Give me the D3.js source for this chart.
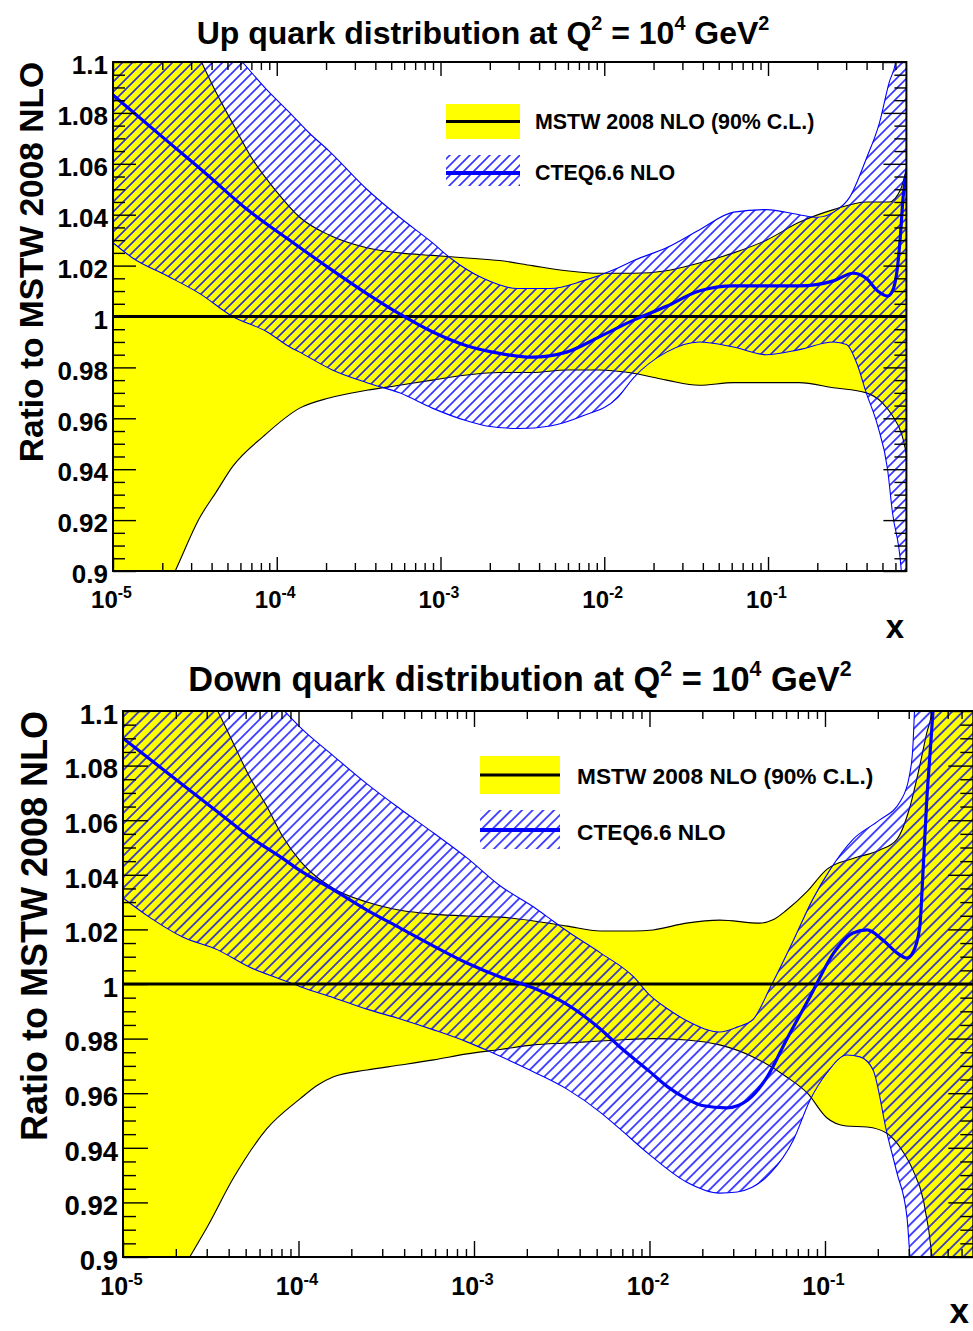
<!DOCTYPE html>
<html>
<head>
<meta charset="utf-8">
<script src="https://cdn.jsdelivr.net/npm/d3@7"></script>
<style>
  body { margin: 0; background: #fff; }
  svg text { font-family: "Liberation Sans", Arial, Helvetica, sans-serif; font-weight: bold; fill: #000; }
</style>
</head>
<body>
<svg id="fig" width="973" height="1331"></svg>
<script>
// ---- axis ranges and tick labels ----
const xDomain = [1e-5, 0.7];
const yDomain = [0.9, 1.1];
const yTicks = [0.90, 0.92, 0.94, 0.96, 0.98, 1.00, 1.02, 1.04, 1.06, 1.08, 1.10];
const xTicks = [1e-5, 1e-4, 1e-3, 1e-2, 1e-1];
const xTickExponents = ["-5", "-4", "-3", "-2", "-1"];
const legendLabels = ["MSTW 2008 NLO (90% C.L.)", "CTEQ6.6 NLO"];

// ---- curves: [log10(x), ratio to MSTW 2008 NLO] ----
// MSTW 2008 central value (ratio 1 by construction)
const mstwCentral = [[-5.0, 1.0], [-0.155, 1.0]];

// Up quark, MSTW 2008 NLO 90% C.L. band
const upMstwHi = [[-5.00,1.170],[-4.70,1.130],[-4.46,1.100],[-4.37,1.088],[-4.27,1.076],[-4.15,1.062],
  [-4.00,1.049],[-3.86,1.039],[-3.68,1.032],[-3.45,1.027],[-3.25,1.025],[-3.05,1.024],[-2.84,1.023],
  [-2.64,1.022],[-2.44,1.020],[-2.23,1.018],[-2.03,1.017],[-1.82,1.017],[-1.62,1.018],[-1.42,1.021],
  [-1.21,1.025],[-1.01,1.030],[-0.81,1.037],[-0.60,1.042],[-0.40,1.045],[-0.26,1.045],[-0.19,1.050],[-0.155,1.058]];
const upMstwLo = [[-5.00,0.850],[-4.80,0.876],[-4.62,0.900],[-4.47,0.921],[-4.37,0.931],[-4.27,0.941],
  [-4.08,0.953],[-3.86,0.964],[-3.68,0.968],[-3.45,0.971],[-3.25,0.973],[-3.05,0.975],[-2.84,0.977],
  [-2.64,0.978],[-2.44,0.978],[-2.23,0.979],[-2.03,0.979],[-1.85,0.978],[-1.62,0.975],[-1.42,0.973],
  [-1.21,0.974],[-1.01,0.974],[-0.81,0.974],[-0.60,0.972],[-0.40,0.970],[-0.30,0.966],[-0.24,0.961],
  [-0.18,0.953],[-0.155,0.946]];
// Up quark, CTEQ6.6 NLO band and central value
const upCteqHi = [[-5.00,1.157],[-4.60,1.128],[-4.21,1.100],[-4.06,1.089],[-3.92,1.080],[-3.80,1.072],
  [-3.68,1.065],[-3.45,1.050],[-3.25,1.039],[-3.05,1.029],[-2.94,1.023],[-2.74,1.015],[-2.53,1.011],
  [-2.33,1.011],[-2.13,1.014],[-1.92,1.019],[-1.82,1.022],[-1.62,1.027],[-1.42,1.034],[-1.21,1.041],
  [-1.01,1.042],[-0.81,1.040],[-0.70,1.039],[-0.60,1.041],[-0.50,1.047],[-0.40,1.062],[-0.32,1.076],
  [-0.26,1.092],[-0.22,1.100],[-0.155,1.140]];
const upCteqLo = [[-5.00,1.029],[-4.88,1.023],[-4.67,1.016],[-4.47,1.009],[-4.27,1.000],[-4.06,0.994],
  [-3.92,0.988],[-3.86,0.986],[-3.66,0.979],[-3.45,0.974],[-3.25,0.970],[-3.05,0.964],[-2.84,0.959],
  [-2.72,0.957],[-2.52,0.956],[-2.33,0.957],[-2.13,0.961],[-1.92,0.968],[-1.82,0.976],[-1.62,0.986],
  [-1.42,0.990],[-1.21,0.988],[-1.01,0.985],[-0.81,0.987],[-0.60,0.990],[-0.52,0.989],[-0.46,0.982],
  [-0.40,0.970],[-0.33,0.957],[-0.27,0.940],[-0.24,0.923],[-0.19,0.903],[-0.155,0.870]];
const upCteqMid = [[-5.00,1.087],[-4.67,1.069],[-4.43,1.056],[-4.18,1.042],[-3.90,1.029],[-3.68,1.019],
  [-3.45,1.009],[-3.25,1.001],[-3.05,0.994],[-2.84,0.9885],[-2.64,0.9855],[-2.44,0.984],[-2.23,0.986],
  [-2.03,0.992],[-1.84,0.998],[-1.62,1.004],[-1.42,1.010],[-1.21,1.012],[-1.01,1.012],[-0.81,1.012],
  [-0.60,1.014],[-0.48,1.017],[-0.40,1.015],[-0.33,1.010],[-0.27,1.008],[-0.24,1.010],[-0.21,1.019],
  [-0.19,1.033],[-0.175,1.047],[-0.155,1.056]];

// Down quark, MSTW 2008 NLO 90% C.L. band
const downMstwHi = [[-5.00,1.170],[-4.70,1.130],[-4.46,1.100],[-4.37,1.088],[-4.28,1.076],[-4.18,1.065],
  [-4.09,1.054],[-3.99,1.045],[-3.80,1.035],[-3.61,1.030],[-3.42,1.027],[-3.23,1.0256],[-3.04,1.0249],
  [-2.85,1.0245],[-2.66,1.0231],[-2.47,1.0212],[-2.28,1.0194],[-2.09,1.0194],[-1.98,1.0198],[-1.79,1.0223],
  [-1.60,1.0234],[-1.37,1.0223],[-1.30,1.0234],[-1.22,1.027],[-1.10,1.034],[-0.99,1.042],[-0.84,1.046],
  [-0.69,1.049],[-0.59,1.053],[-0.52,1.064],[-0.46,1.080],[-0.42,1.092],[-0.39,1.100],[-0.30,1.200],[-0.155,1.350]];
const downMstwLo = [[-5.00,0.857],[-4.80,0.880],[-4.62,0.900],[-4.52,0.911],[-4.37,0.929],[-4.18,0.947],
  [-3.99,0.958],[-3.89,0.963],[-3.80,0.966],[-3.61,0.9685],[-3.42,0.9703],[-3.23,0.9722],[-3.04,0.9744],
  [-2.85,0.976],[-2.66,0.9777],[-2.47,0.9784],[-2.28,0.9791],[-2.17,0.9795],[-1.98,0.980],[-1.79,0.9795],
  [-1.60,0.9777],[-1.41,0.9733],[-1.22,0.966],[-1.10,0.960],[-0.99,0.951],[-0.88,0.948],[-0.76,0.9476],
  [-0.65,0.9454],[-0.56,0.939],[-0.50,0.932],[-0.44,0.921],[-0.39,0.900],[-0.30,0.800],[-0.155,0.650]];
// Down quark, CTEQ6.6 NLO band and central value
const downCteqHi = [[-5.00,1.166],[-4.50,1.130],[-4.08,1.100],[-3.99,1.094],[-3.80,1.0835],[-3.61,1.0733],
  [-3.42,1.0641],[-3.23,1.0553],[-3.04,1.0462],[-2.85,1.0359],[-2.66,1.0282],[-2.55,1.0231],[-2.47,1.0194],
  [-2.28,1.0114],[-2.09,1.0026],[-2.00,0.996],[-1.90,0.991],[-1.77,0.986],[-1.60,0.9824],[-1.50,0.9842],
  [-1.41,0.987],[-1.31,0.999],[-1.18,1.016],[-1.07,1.031],[-0.97,1.042],[-0.84,1.053],[-0.69,1.060],
  [-0.57,1.067],[-0.52,1.076],[-0.50,1.086],[-0.49,1.100],[-0.40,1.250],[-0.155,1.500]];
const downCteqLo = [[-5.00,1.0315],[-4.85,1.0245],[-4.66,1.0172],[-4.46,1.0125],[-4.28,1.0062],[-4.09,1.0015],
  [-3.99,0.999],[-3.80,0.995],[-3.61,0.9908],[-3.42,0.9872],[-3.23,0.9832],[-3.04,0.9788],[-2.93,0.9758],
  [-2.85,0.9735],[-2.66,0.9678],[-2.47,0.9615],[-2.28,0.9530],[-2.17,0.9470],[-2.00,0.9375],[-1.79,0.9275],
  [-1.60,0.9234],[-1.50,0.9238],[-1.31,0.9308],[-1.18,0.9429],[-1.085,0.9575],[-0.99,0.9674],[-0.875,0.974],
  [-0.80,0.9733],[-0.726,0.9685],[-0.647,0.9454],[-0.59,0.9308],[-0.533,0.9147],[-0.516,0.900],
  [-0.40,0.750],[-0.155,0.500]];
const downCteqMid = [[-5.00,1.090],[-4.85,1.0825],[-4.66,1.073],[-4.46,1.063],[-4.28,1.054],[-4.09,1.046],
  [-3.99,1.0415],[-3.80,1.0345],[-3.61,1.0271],[-3.42,1.0205],[-3.23,1.0139],[-3.04,1.0077],[-2.85,1.0026],
  [-2.66,0.9985],[-2.47,0.9925],[-2.28,0.9835],[-2.17,0.977],[-2.00,0.968],[-1.90,0.9625],[-1.79,0.958],
  [-1.70,0.9555],[-1.56,0.9546],[-1.44,0.9575],[-1.33,0.9659],[-1.22,0.9795],[-1.08,0.996],[-0.95,1.0114],
  [-0.84,1.0187],[-0.76,1.0198],[-0.67,1.0161],[-0.59,1.0114],[-0.533,1.0095],[-0.50,1.0114],[-0.46,1.0209],
  [-0.44,1.0429],[-0.42,1.0674],[-0.40,1.0857],[-0.385,1.0996],[-0.30,1.250]];

// ---- page layout ----
const panels = [
  { id: "up", title: "Up", left: 113, right: 906.4, top: 62, bottom: 571,
    mstwHi: upMstwHi, mstwLo: upMstwLo, cteqHi: upCteqHi, cteqLo: upCteqLo, cteqMid: upCteqMid,
    hatch: 10, titleY: 44, titleX: 483, titleSize: 32,
    ytSize: 26, ytPad: 5, yMaj: 23, yMin: 12, xMaj: 14, xMin: 8,
    xtSize: 24, xtBase: 37,
    axisTitleSize: 33.5, axisTitleX: 43,
    xLabel: { x: 904, y: 638, size: 33 },
    legend: { x0: 446, x1: 520, box1: [104, 139], box2: [155, 186], line2: 173,
              textX: 535, base1: 129, base2: 180, size: 21.4 } },
  { id: "down", title: "Down", left: 123, right: 973.3, top: 711, bottom: 1257,
    mstwHi: downMstwHi, mstwLo: downMstwLo, cteqHi: downCteqHi, cteqLo: downCteqLo, cteqMid: downCteqMid,
    hatch: 10.7, titleY: 691, titleX: 520, titleSize: 34.4,
    ytSize: 27.5, ytPad: 5, yMaj: 25, yMin: 13, xMaj: 16, xMin: 8,
    xtSize: 25, xtBase: 38,
    axisTitleSize: 36, axisTitleX: 47,
    xLabel: { x: 969, y: 1323, size: 35 },
    legend: { x0: 480, x1: 560, box1: [756, 794], box2: [810, 849], line2: 830,
              textX: 577, base1: 784, base2: 840, size: 22.7 } }
];

const svg = d3.select("#fig");
const defs = svg.append("defs");
const fmtY = d => String(+d.toFixed(2));

function drawPanel(p) {
  const g = svg.append("g");
  const x = d3.scaleLog().domain(xDomain).range([p.left, p.right]);
  const y = d3.scaleLinear().domain(yDomain).range([p.bottom, p.top]);

  const clipId = "clip-" + p.id;
  defs.append("clipPath").attr("id", clipId).append("rect")
    .attr("x", p.left).attr("y", p.top)
    .attr("width", p.right - p.left).attr("height", p.bottom - p.top);

  // diagonal blue hatching for the CTEQ band: vertical strokes rotated by 45 degrees,
  // so that the horizontal gap between neighbouring strokes is p.hatch pixels
  const s = p.hatch / Math.SQRT2, patId = "hatch-" + p.id;
  defs.append("pattern").attr("id", patId).attr("patternUnits", "userSpaceOnUse")
    .attr("width", s).attr("height", s)
    .attr("patternTransform", "rotate(45)")
    .append("line")
    .attr("x1", s / 2).attr("x2", s / 2).attr("y1", -1).attr("y2", s + 1)
    .attr("stroke", "#0000ff").attr("stroke-width", 1.4);

  const line = d3.line()
    .x(d => x(Math.pow(10, d[0])))
    .y(d => y(d[1]))
    .curve(d3.curveMonotoneX);
  const band = (hi, lo) => line(hi) + line(lo.slice().reverse()).replace(/^M/, "L") + "Z";

  const plot = g.append("g").attr("clip-path", `url(#${clipId})`);

  // MSTW band
  plot.append("path").attr("d", band(p.mstwHi, p.mstwLo)).attr("fill", "#ffff00").attr("stroke", "none");
  [p.mstwHi, p.mstwLo].forEach(c =>
    plot.append("path").attr("d", line(c)).attr("fill", "none").attr("stroke", "#000").attr("stroke-width", 1.1));

  // CTEQ band
  plot.append("path").attr("d", band(p.cteqHi, p.cteqLo)).attr("fill", `url(#${patId})`).attr("stroke", "none");
  [p.cteqHi, p.cteqLo].forEach(c =>
    plot.append("path").attr("d", line(c)).attr("fill", "none").attr("stroke", "#0000ff").attr("stroke-width", 1.1));

  // central values
  plot.append("path").attr("d", line(mstwCentral)).attr("fill", "none")
    .attr("stroke", "#000").attr("stroke-width", 3);
  plot.append("path").attr("d", line(p.cteqMid)).attr("fill", "none")
    .attr("stroke", "#0000ff").attr("stroke-width", 3.2);

  // ---- axes with inward ticks on all four sides ----
  const minorY = d3.range(0, 41).map(i => 0.9 + i * 0.005).filter((v, i) => i % 4 !== 0);
  const minorX = [];
  for (let e = -5; e <= -1; e++) for (let k = 2; k <= 9; k++) {
    const v = k * Math.pow(10, e);
    if (v <= xDomain[1]) minorX.push(v);
  }
  const styleAxis = sel => {
    sel.select(".domain").remove();
    sel.selectAll(".tick line").attr("stroke", "#000").attr("stroke-width", 1.4);
  };

  g.append("g").attr("transform", `translate(${p.left},0)`)
    .call(d3.axisLeft(y).tickValues(yTicks).tickSize(-p.yMaj).tickPadding(p.ytPad).tickFormat(fmtY))
    .call(styleAxis)
    .call(a => a.selectAll(".tick text").attr("font-size", p.ytSize).attr("dy", "0.45em")
      .attr("font-family", null));
  g.append("g").attr("transform", `translate(${p.left},0)`)
    .call(d3.axisLeft(y).tickValues(minorY).tickSize(-p.yMin).tickFormat(""))
    .call(styleAxis);
  g.append("g").attr("transform", `translate(${p.right},0)`)
    .call(d3.axisRight(y).tickValues(yTicks).tickSize(-p.yMaj).tickFormat(""))
    .call(styleAxis);
  g.append("g").attr("transform", `translate(${p.right},0)`)
    .call(d3.axisRight(y).tickValues(minorY).tickSize(-p.yMin).tickFormat(""))
    .call(styleAxis);

  const xb = g.append("g").attr("transform", `translate(0,${p.bottom})`)
    .call(d3.axisBottom(x).tickValues(xTicks).tickSize(-p.xMaj).tickFormat(""))
    .call(styleAxis);
  xb.selectAll(".tick text").each(function(d, i) {
    const t = d3.select(this).attr("font-family", null).attr("font-size", p.xtSize)
      .attr("y", p.xtBase).attr("dy", null).attr("x", -2).attr("text-anchor", "middle");
    t.text(null);
    t.append("tspan").text("10");
    t.append("tspan").attr("font-size", p.xtSize * 0.66).attr("dy", -p.xtSize * 0.42).text(xTickExponents[i]);
  });
  g.append("g").attr("transform", `translate(0,${p.bottom})`)
    .call(d3.axisBottom(x).tickValues(minorX).tickSize(-p.xMin).tickFormat(""))
    .call(styleAxis);
  g.append("g").attr("transform", `translate(0,${p.top})`)
    .call(d3.axisTop(x).tickValues(xTicks).tickSize(-p.xMaj).tickFormat(""))
    .call(styleAxis);
  g.append("g").attr("transform", `translate(0,${p.top})`)
    .call(d3.axisTop(x).tickValues(minorX).tickSize(-p.xMin).tickFormat(""))
    .call(styleAxis);

  // frame
  g.append("rect").attr("x", p.left).attr("y", p.top)
    .attr("width", p.right - p.left).attr("height", p.bottom - p.top)
    .attr("fill", "none").attr("stroke", "#000").attr("stroke-width", 2);

  // axis titles
  g.append("text").attr("transform", `translate(${p.axisTitleX},${p.top}) rotate(-90)`)
    .attr("text-anchor", "end").attr("font-size", p.axisTitleSize).text("Ratio to MSTW 2008 NLO");
  g.append("text").attr("x", p.xLabel.x).attr("y", p.xLabel.y).attr("text-anchor", "end")
    .attr("font-size", p.xLabel.size).text("x");

  // panel title
  const sup = p.titleSize * 0.62, rise = p.titleSize * 0.45;
  const tt = g.append("text").attr("x", p.titleX).attr("y", p.titleY)
    .attr("text-anchor", "middle").attr("font-size", p.titleSize);
  tt.append("tspan").text(p.title + " quark distribution at Q");
  tt.append("tspan").attr("font-size", sup).attr("dy", -rise).text("2");
  tt.append("tspan").attr("dy", rise).text(" = 10");
  tt.append("tspan").attr("font-size", sup).attr("dy", -rise).text("4");
  tt.append("tspan").attr("dy", rise).text(" GeV");
  tt.append("tspan").attr("font-size", sup).attr("dy", -rise).text("2");

  // legend
  const L = p.legend;
  g.append("rect").attr("x", L.x0).attr("y", L.box1[0]).attr("width", L.x1 - L.x0)
    .attr("height", L.box1[1] - L.box1[0]).attr("fill", "#ffff00");
  g.append("line").attr("x1", L.x0).attr("x2", L.x1)
    .attr("y1", (L.box1[0] + L.box1[1]) / 2).attr("y2", (L.box1[0] + L.box1[1]) / 2)
    .attr("stroke", "#000").attr("stroke-width", 3);
  g.append("rect").attr("x", L.x0).attr("y", L.box2[0]).attr("width", L.x1 - L.x0)
    .attr("height", L.box2[1] - L.box2[0]).attr("fill", `url(#${patId})`);
  g.append("line").attr("x1", L.x0).attr("x2", L.x1).attr("y1", L.line2).attr("y2", L.line2)
    .attr("stroke", "#0000ff").attr("stroke-width", 4);
  g.append("text").attr("x", L.textX).attr("y", L.base1).attr("font-size", L.size).text(legendLabels[0]);
  g.append("text").attr("x", L.textX).attr("y", L.base2).attr("font-size", L.size).text(legendLabels[1]);
}

panels.forEach(drawPanel);
</script>
</body>
</html>
